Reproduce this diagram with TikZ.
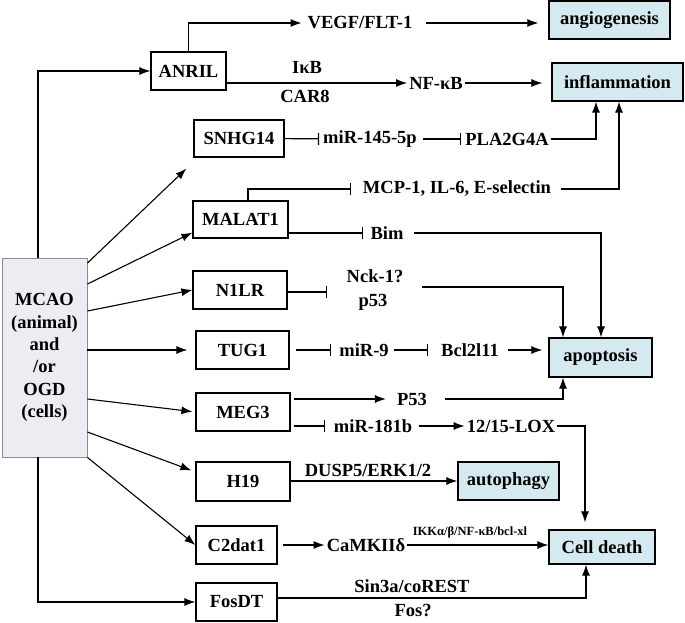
\documentclass[tikz,border=0pt]{standalone}
\usepackage{fontspec}
\setmainfont{Liberation Serif}
\usepackage{tikz}
\usetikzlibrary{arrows.meta}
\definecolor{outfill}{RGB}{212,233,240}
\definecolor{srcfill}{RGB}{237,236,242}
\definecolor{srcline}{RGB}{140,140,140}

\begin{document}
\begin{tikzpicture}[x=1pt,y=-1pt,
  txt/.style={font=\bfseries\fontsize{18.5}{22.4}\selectfont},
  gene/.style={txt,draw,line width=1.2pt,inner sep=0pt,minimum height=38pt},
  outcome/.style={gene,fill=outfill},
  mediator/.style={txt,inner sep=2pt},
  act/.style={line width=1.1pt,-{Latex[length=11pt,width=8pt]}},
  inh/.style={line width=1.1pt,-{Bar[width=12pt,line width=1.1pt]}},
  plain/.style={line width=1.1pt}]
\useasboundingbox (0,0) rectangle (685,623);

\node [gene,draw=srcline,line width=0.9pt,fill=srcfill,align=center,minimum width=85pt,minimum height=199pt] (mcao) at (44.5,357.5)
  {MCAO\\(animal)\\and\\/or\\OGD\\(cells)};

\node [gene,minimum width=75pt] (anril) at (188.5,71) {ANRIL};
\node [gene,minimum width=90pt,minimum height=37pt] (snhg) at (239,138.5) {SNHG14};
\node [gene,minimum width=95pt,minimum height=37pt] (malat) at (240.5,219.5) {MALAT1};
\node [gene,minimum width=94pt] (nlr) at (240,290) {N1LR};
\node [gene,minimum width=93pt] (tug) at (242.5,350) {TUG1};
\node [gene,minimum width=94pt] (meg) at (243,412) {MEG3};
\node [gene,minimum width=94pt,minimum height=39pt] (h) at (243,481.5) {H19};
\node [gene,minimum width=81pt] (cdat) at (236.5,545) {C2dat1};
\node [gene,minimum width=81pt] (fosdt) at (236.5,602) {FosDT};

\node [outcome,minimum width=121pt] (angio) at (609.5,20) {angiogenesis};
\node [outcome,minimum width=131pt] (inflam) at (617.5,82) {inflammation};
\node [outcome,minimum width=103pt,minimum height=39pt] (apop) at (600.5,357.5) {apoptosis};
\node [outcome,minimum width=101pt] (autoph) at (508.5,481) {autophagy};
\node [outcome,minimum width=106pt,minimum height=34pt] (celld) at (602,547) {Cell death};

\node [mediator] (vegf) at (360,23) {VEGF/FLT-1};
\node [mediator] (ikb) at (307,67) {IκB};
\node [mediator] (car) at (305,96) {CAR8};
\node [mediator] (nfkb) at (436,83) {NF-κB};
\node [mediator] (mirh) at (370,139) {miR-145-5p};
\node [mediator] (pla) at (507,139) {PLA2G4A};
\node [mediator] (mcp) at (457,189) {MCP-1, IL-6, E-selectin};
\node [mediator] (bim) at (387,233) {Bim};
\node [mediator] (nck) at (375,276) {Nck-1?};
\node [mediator] (pft) at (373,302) {p53};
\node [mediator] (mirn) at (364,350) {miR-9};
\node [mediator] (bcl) at (470,350) {Bcl2l11};
\node [mediator] (pfty) at (412,399) {P53};
\node [mediator] (mire) at (373,426) {miR-181b};
\node [mediator] (lox) at (511,426) {12/15-LOX};
\node [mediator] (dusp) at (368,470) {DUSP5/ERK1/2};
\node [mediator] (camk) at (366,545) {CaMKIIδ};
\node [mediator,font=\bfseries\fontsize{12.5}{14}\selectfont] (ikk) at (470,532) {IKKα/β/NF-κB/bcl-xl};
\node [mediator] (sin) at (412,586) {Sin3a/coREST};
\node [mediator] (fos) at (413,610) {Fos?};

\coordinate (nlrend) at (327,292);
\coordinate (nckout) at (422,287);

\draw [act] ([xshift=-6.5pt]mcao.north) |- (anril);
\draw [act] ([yshift=94.5pt]mcao.east) -- ([xshift=-7pt,yshift=-11pt]snhg.south west);
\draw [act] ([yshift=73.5pt]mcao.east) -- ([yshift=6pt]malat.south west);
\draw [act] ([yshift=46.5pt]mcao.east) -- (nlr.west);
\draw [act,shorten >=8pt] ([yshift=7.5pt]mcao.east) -- (tug.west);
\draw [act,shorten >=3pt] ([yshift=-41.5pt]mcao.east) -- (meg.west);
\draw [act] ([yshift=-74.5pt]mcao.east) -- ([xshift=-4pt,yshift=-9pt]h.north west);
\draw [act] (mcao.south east) -- (cdat.west);
\draw [act] ([xshift=-6.5pt]mcao.south) |- (fosdt);

\draw [act,shorten >=4pt] (anril.north) |- (vegf);
\draw [act,shorten <=12pt,shorten >=10pt] (vegf.east) -- (vegf.east -| angio.west);
\draw [act] (anril.east |- nfkb) -- (nfkb);
\draw [act,shorten >=9pt] (nfkb) -- (nfkb -| inflam.west);

\draw [inh,shorten >=2pt] (snhg) -- (mirh);
\draw [inh,shorten <=4pt,shorten >=2pt] (mirh) -- (pla);
\draw [act] (pla.east) -| ([xshift=-21.5pt]inflam.south);

\draw [inh,shorten >=10pt] ([xshift=7.5pt]malat.north) |- (mcp);
\draw [act,shorten <=8pt] (mcp.east) -| ([xshift=1.5pt]inflam.south);
\draw [inh,shorten >=5pt] (malat.east |- bim) -- (bim);
\draw [act,shorten <=8pt] (bim.east) -| ([xshift=0.5pt]apop.north);

\draw [inh] (nlr.east |- nlrend) -- (nlrend);
\draw [act] (nckout) -| ([xshift=-37.5pt]apop.north);

\draw [inh,shorten <=6pt,shorten >=6pt] (tug) -- (mirn);
\draw [inh,shorten <=3pt,shorten >=11pt] (mirn) -- (bcl);
\draw [act,shorten <=7pt,shorten >=6pt] (bcl) -- (bcl -| apop.west);

\draw [act,shorten <=3pt,shorten >=9pt] (meg.east |- pfty) -- (pfty);
\draw [act,shorten <=16pt] (pfty.east) -| ([xshift=-37.5pt]apop.south);
\draw [inh,shorten <=3pt,shorten >=7pt] (meg.east |- mire) -- (mire);
\draw [act,shorten <=5pt] (mire) -- (lox);
\draw [act,shorten >=7pt] (lox.east) -| ([xshift=-17pt]celld.north);

\draw [act] (h.east |- autoph) -- (autoph);

\draw [act,shorten <=5pt] (cdat) -- (camk);
\draw [act] (camk.east) -- (camk.east -| celld.west);

\draw [act] ([yshift=4pt]fosdt.east) -| ([xshift=-16pt]celld.south);
\end{tikzpicture}
\end{document}
